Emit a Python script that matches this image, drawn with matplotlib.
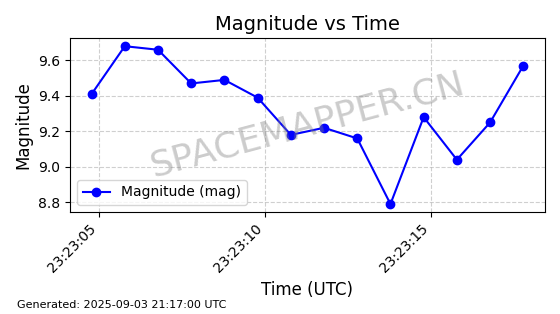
from datetime import datetime, timedelta

import matplotlib
matplotlib.use("Agg")
import matplotlib.dates as mdates
import matplotlib.pyplot as plt

start = datetime(2025, 9, 3, 23, 23, 4, 770000)
offsets_s = [0, 1, 2, 3, 4, 5, 6, 7, 8, 9, 10, 11, 12, 13]
magnitudes = [9.41, 9.68, 9.66, 9.47, 9.49, 9.39, 9.18, 9.22, 9.16, 8.79, 9.28, 9.04, 9.25, 9.57]
times = [start + timedelta(seconds=s) for s in offsets_s]

fig, ax = plt.subplots(figsize=(5.6, 3.14), dpi=100)
ax.plot(times, magnitudes, "o-", color="blue", lw=1.5, ms=6, label="Magnitude (mag)")

ax.set_title("Magnitude vs Time", fontsize=14)
ax.set_xlabel("Time (UTC)", fontsize=12)
ax.set_ylabel("Magnitude", fontsize=12)
ax.xaxis.set_major_locator(mdates.SecondLocator(bysecond=range(0, 60, 5)))
ax.xaxis.set_major_formatter(mdates.DateFormatter("%H:%M:%S"))
plt.setp(ax.get_xticklabels(), rotation=45, ha="right")
ax.grid(True, ls="--", alpha=0.6)
ax.legend(loc="lower left")

# watermark
ax.text(0.5, 0.5, "SPACEMAPPER.CN", transform=ax.transAxes, fontsize=26,
        color="gray", alpha=0.4, rotation=15, ha="center", va="center")

fig.text(0.03, 0.02, "Generated: 2025-09-03 21:17:00 UTC", fontsize=8)

plt.subplots_adjust(left=0.125, right=0.973, top=0.878, bottom=0.325)
fig.savefig("out.png", dpi=100)
plt.close(fig)
